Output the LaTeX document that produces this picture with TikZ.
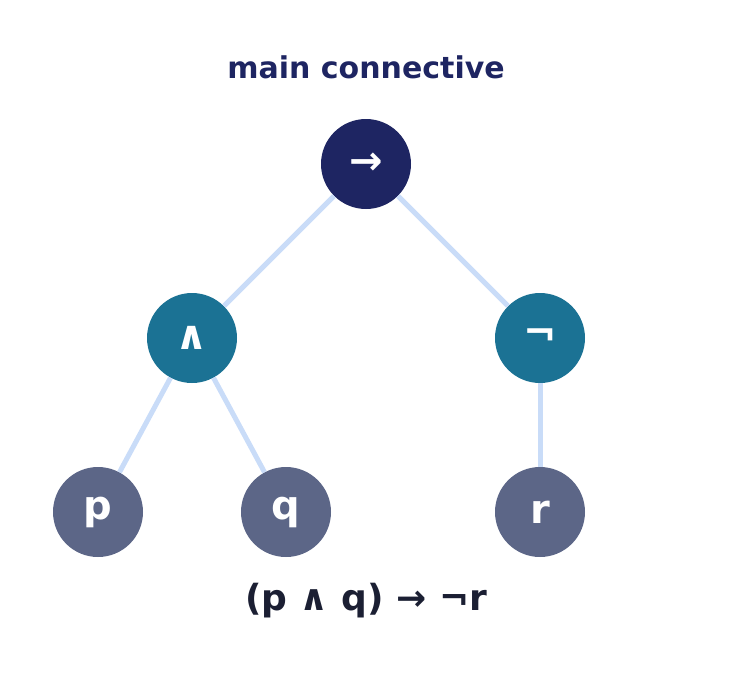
\documentclass[tikz,border=0pt]{standalone}
\usepackage{fontspec}
\setmainfont{DejaVu Sans}
\definecolor{cRoot}{HTML}{1E2562}
\definecolor{cMid}{HTML}{1B7294}
\definecolor{cLeaf}{HTML}{5C6687}
\definecolor{cEdge}{HTML}{C9DCF8}
\definecolor{cText}{HTML}{1B1F33}
\begin{document}
\begin{tikzpicture}[x=1pt,y=-1pt,
  nd/.style={circle,minimum size=90pt,inner sep=0pt,text=white,font=\bfseries\fontsize{40}{40}\selectfont},
  ed/.style={draw=cEdge,line width=5pt}]
\useasboundingbox (0,0) rectangle (732,678);
\node[font=\bfseries\fontsize{30}{30}\selectfont,text=cRoot] (title) at (366,67) {main connective};
\node[nd,fill=cRoot] (root) at (366,164) {→};
\node[nd,fill=cMid] (and) at (192,338) {∧};
\node[nd,fill=cMid] (not) at (540,338) {¬};
\node[nd,fill=cLeaf] (p) at (98,512) {p};
\node[nd,fill=cLeaf] (q) at (286,512) {q};
\node[nd,fill=cLeaf] (r) at (540,512) {r};
\begin{scope}[on background layer/.style={}]
\end{scope}
\node[font=\bfseries\fontsize{36}{36}\selectfont,text=cText] (formula) at (366,601) {(p ∧ q) → ¬r};
\begin{pgfinterruptboundingbox}\end{pgfinterruptboundingbox}
\draw[ed] (root) -- (and);
\draw[ed] (root) -- (not);
\draw[ed] (and) -- (p);
\draw[ed] (and) -- (q);
\draw[ed] (not) -- (r);
\end{tikzpicture}
\end{document}
